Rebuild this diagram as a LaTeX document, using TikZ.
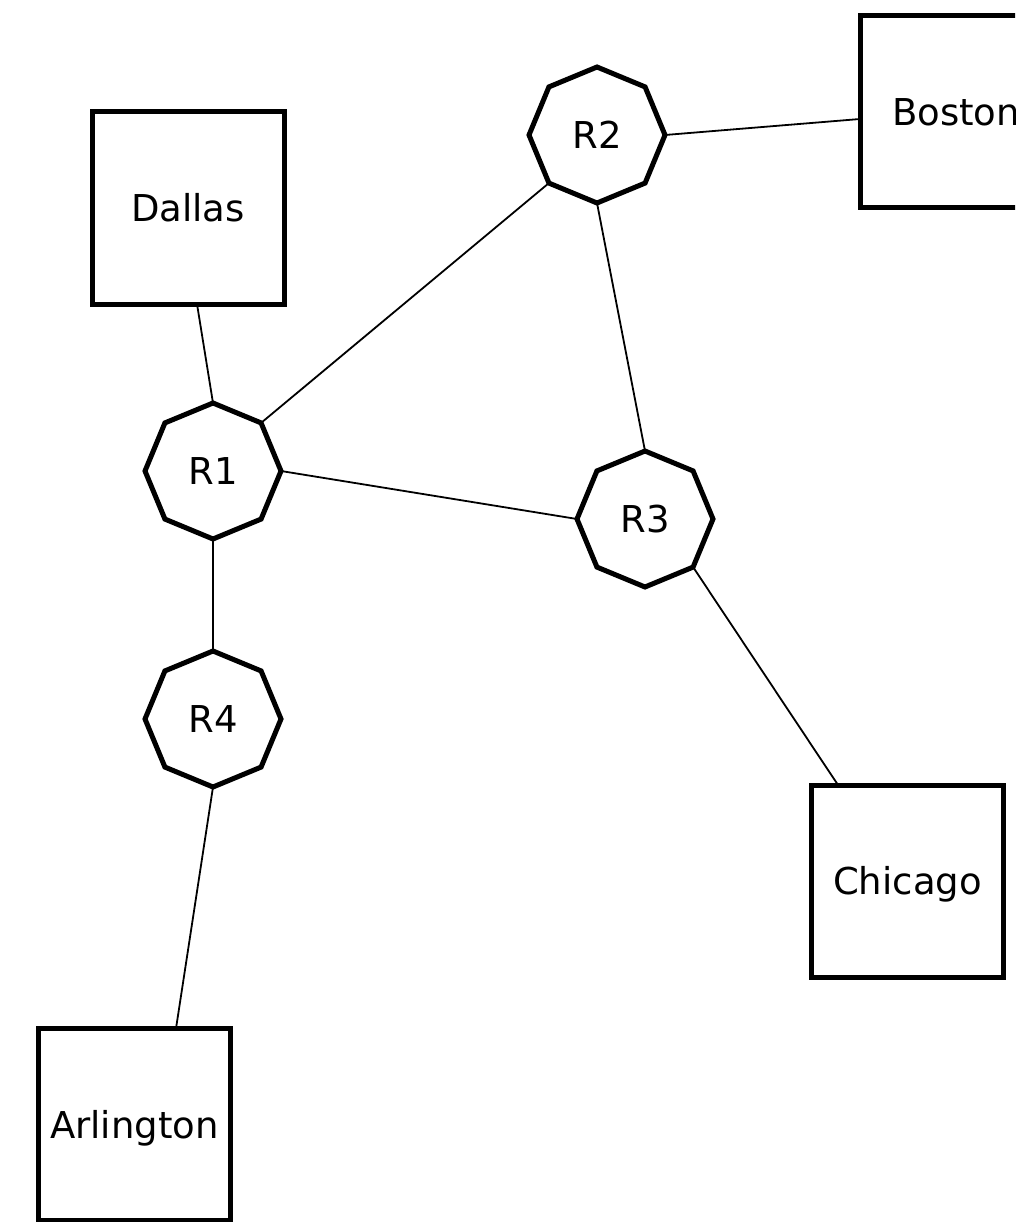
\documentclass[tikz,border=0pt]{standalone}
\usepackage{fontspec}
\setmainfont{DejaVu Sans}
\usetikzlibrary{shapes.geometric,calc}
\begin{document}
\begin{tikzpicture}[x=1pt,y=-1pt,
  city/.style={draw, line width=5pt, rectangle, minimum width=192pt, minimum height=192pt, outer sep=0pt, inner sep=0pt, text height=27pt, text depth=0pt, font=\fontsize{37}{44}\selectfont},
  router/.style={draw, line width=5pt, regular polygon, regular polygon sides=8, shape border rotate=22.5, minimum size=136pt, outer sep=0pt, inner sep=0pt, text height=27pt, text depth=0pt, font=\fontsize{37}{44}\selectfont},
  link/.style={line width=1.8pt}]
\useasboundingbox (0,0) rectangle (1015,1222);
\clip (0,0) rectangle (1015,1222);
\node[city] (dallas) at (188,208) {Dallas};
\node[city] (boston) at (956,112) {Boston};
\node[city] (chicago) at (907.5,881) {Chicago};
\node[city] (arlington) at (134.5,1124.5) {Arlington};
\node[router] (r1) at (213,471) {R1};
\node[router] (r2) at (597,135) {R2};
\node[router] (r3) at (645,519) {R3};
\node[router] (r4) at (213,719) {R4};
\draw[link] ($(dallas.south)+(9,0)$) -- (r1.north);
\draw[link] (r1.45) -- (r2.225);
\draw[link] (r1.east) -- (r3.west);
\draw[link] (r2.south) -- (r3.north);
\draw[link] (r2.east) -- ($(boston.west)+(0,7)$);
\draw[link] (r3.-45) -- ($(chicago.north)+(-69.5,0)$);
\draw[link] (r1.south) -- (r4.north);
\draw[link] (r4.south) -- ($(arlington.north)+(41.5,0)$);
\end{tikzpicture}
\end{document}
